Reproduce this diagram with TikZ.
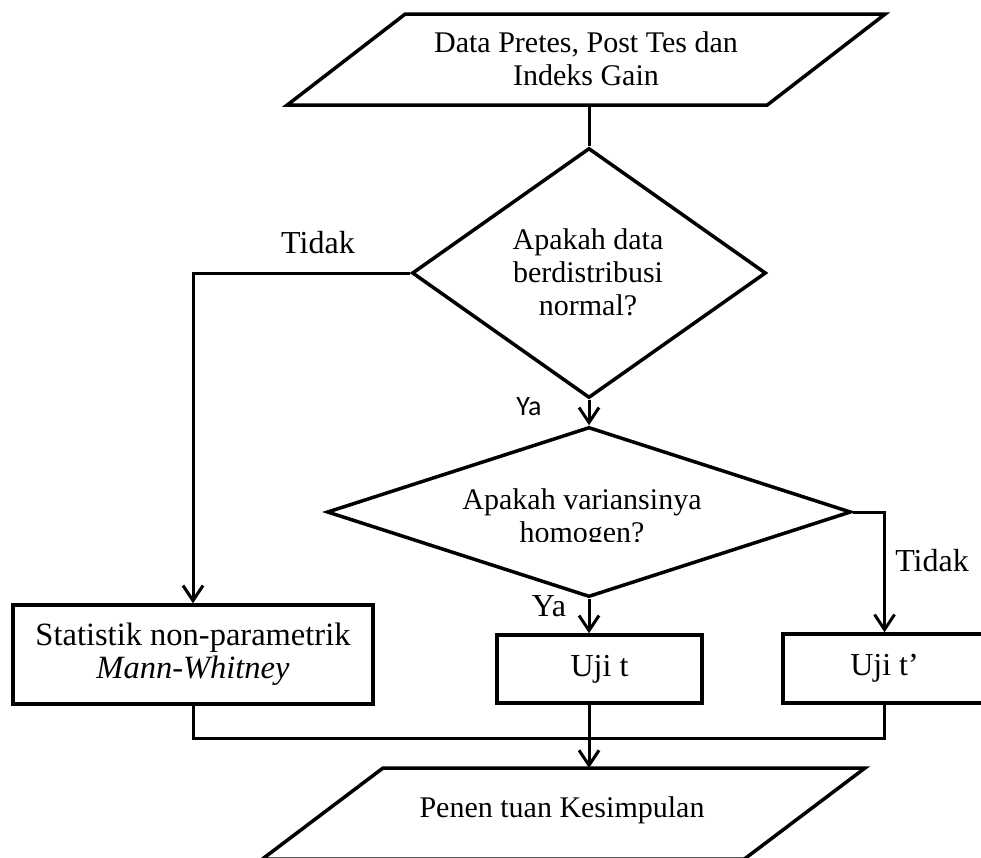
\documentclass[tikz,border=0pt]{standalone}
\usepackage{fontspec}
\setmainfont{Liberation Serif}
\newfontfamily\yafont{Carlito}
\usetikzlibrary{shapes.geometric,arrows.meta,calc}
\begin{document}
\begin{tikzpicture}[x=1pt,y=-1pt,
  every node/.style={font=\fontsize{30}{33}\selectfont},
  bigtext/.style={font=\fontsize{32}{33}\selectfont},
  outline/.style={line width=3.5pt, line join=miter},
  shapeline/.style={draw, outline, inner sep=0pt},
  paranode/.style={inner sep=0pt, outer sep=0pt, minimum height=91pt},
  dec/.style={shapeline, diamond},
  box/.style={shapeline, rectangle, align=center, bigtext},
  conn/.style={line width=3pt},
  arr/.style={conn, -{Straight Barb[length=15pt,width=20pt]}},
  txt/.style={align=center, inner sep=0pt},
]
\useasboundingbox (0,0) rectangle (981,857);

% input parallelogram
\node[paranode, minimum width=480pt] (p1) at (586.25,59.5) {};
\draw[outline] ($(p1.north west)+(59,0)$) -- ($(p1.north east)+(59,0)$)
  -- ($(p1.south east)+(-59,0)$) -- ($(p1.south west)+(-59,0)$) -- cycle;
\node[txt] (p1t) at (586,59) {Data Pretes, Post Tes dan\\Indeks Gain};

\node[dec, minimum width=354pt, minimum height=250pt] (d1) at (589,273) {};
\node[txt] (d1t) at (588,272) {Apakah data\\berdistribusi\\normal?};

\node[dec, minimum width=524pt, minimum height=170pt] (d2) at (589,512) {};
\begin{scope}
  \clip (0,0) rectangle (981,541);
  \node[txt] (d2t) at (582,519) {Apakah variansinya\\homogen?};
\end{scope}

\node[box, minimum width=360pt, minimum height=99pt, font=\fontsize{32.5}{33}\selectfont] (b1) at (193,654.5) {Statistik non-parametrik\\\textit{Mann-Whitney}};
\node[box, minimum width=205pt, minimum height=68pt] (b2) at (599.5,669) {Uji t};
\node[box, minimum width=203pt, minimum height=69pt] (b3) at (884.5,668.5) {Uji t’};

% output parallelogram
\node[paranode, minimum width=482pt] (p2) at (563.7,813.5) {};
\draw[outline] ($(p2.north west)+(60.3,0)$) -- ($(p2.north east)+(60.3,0)$)
  -- ($(p2.south east)+(-60.3,0)$) -- ($(p2.south west)+(-60.3,0)$) -- cycle;
\node[txt] (p2t) at (562,810) {Penen tuan Kesimpulan};

\node[bigtext] (t1) at (318,243) {Tidak};
\node[bigtext] (t2) at (932,561) {Tidak};
\node[font={\yafont\fontsize{28}{30}\selectfont}] (y1) at (529,407) {Ya};
\node[bigtext] (y2) at (549,606) {Ya};

\draw[conn] (p1.south -| d1.north) -- (d1.north);
\draw[arr] (d1.west) -| (b1.north);
\draw[arr] (d1.south) -- (d2.north);
\draw[arr] (d2.south) -- (d2.south |- b2.north);
\draw[arr] (d2.east) -| (b3.north);
\coordinate (mj) at (589,738);
\draw[conn] (b1.south) |- (mj);
\draw[conn] (b3.south) |- (mj);
\draw[arr] (d2.south |- b2.south) -- (d2.south |- p2.north);
\end{tikzpicture}
\end{document}
